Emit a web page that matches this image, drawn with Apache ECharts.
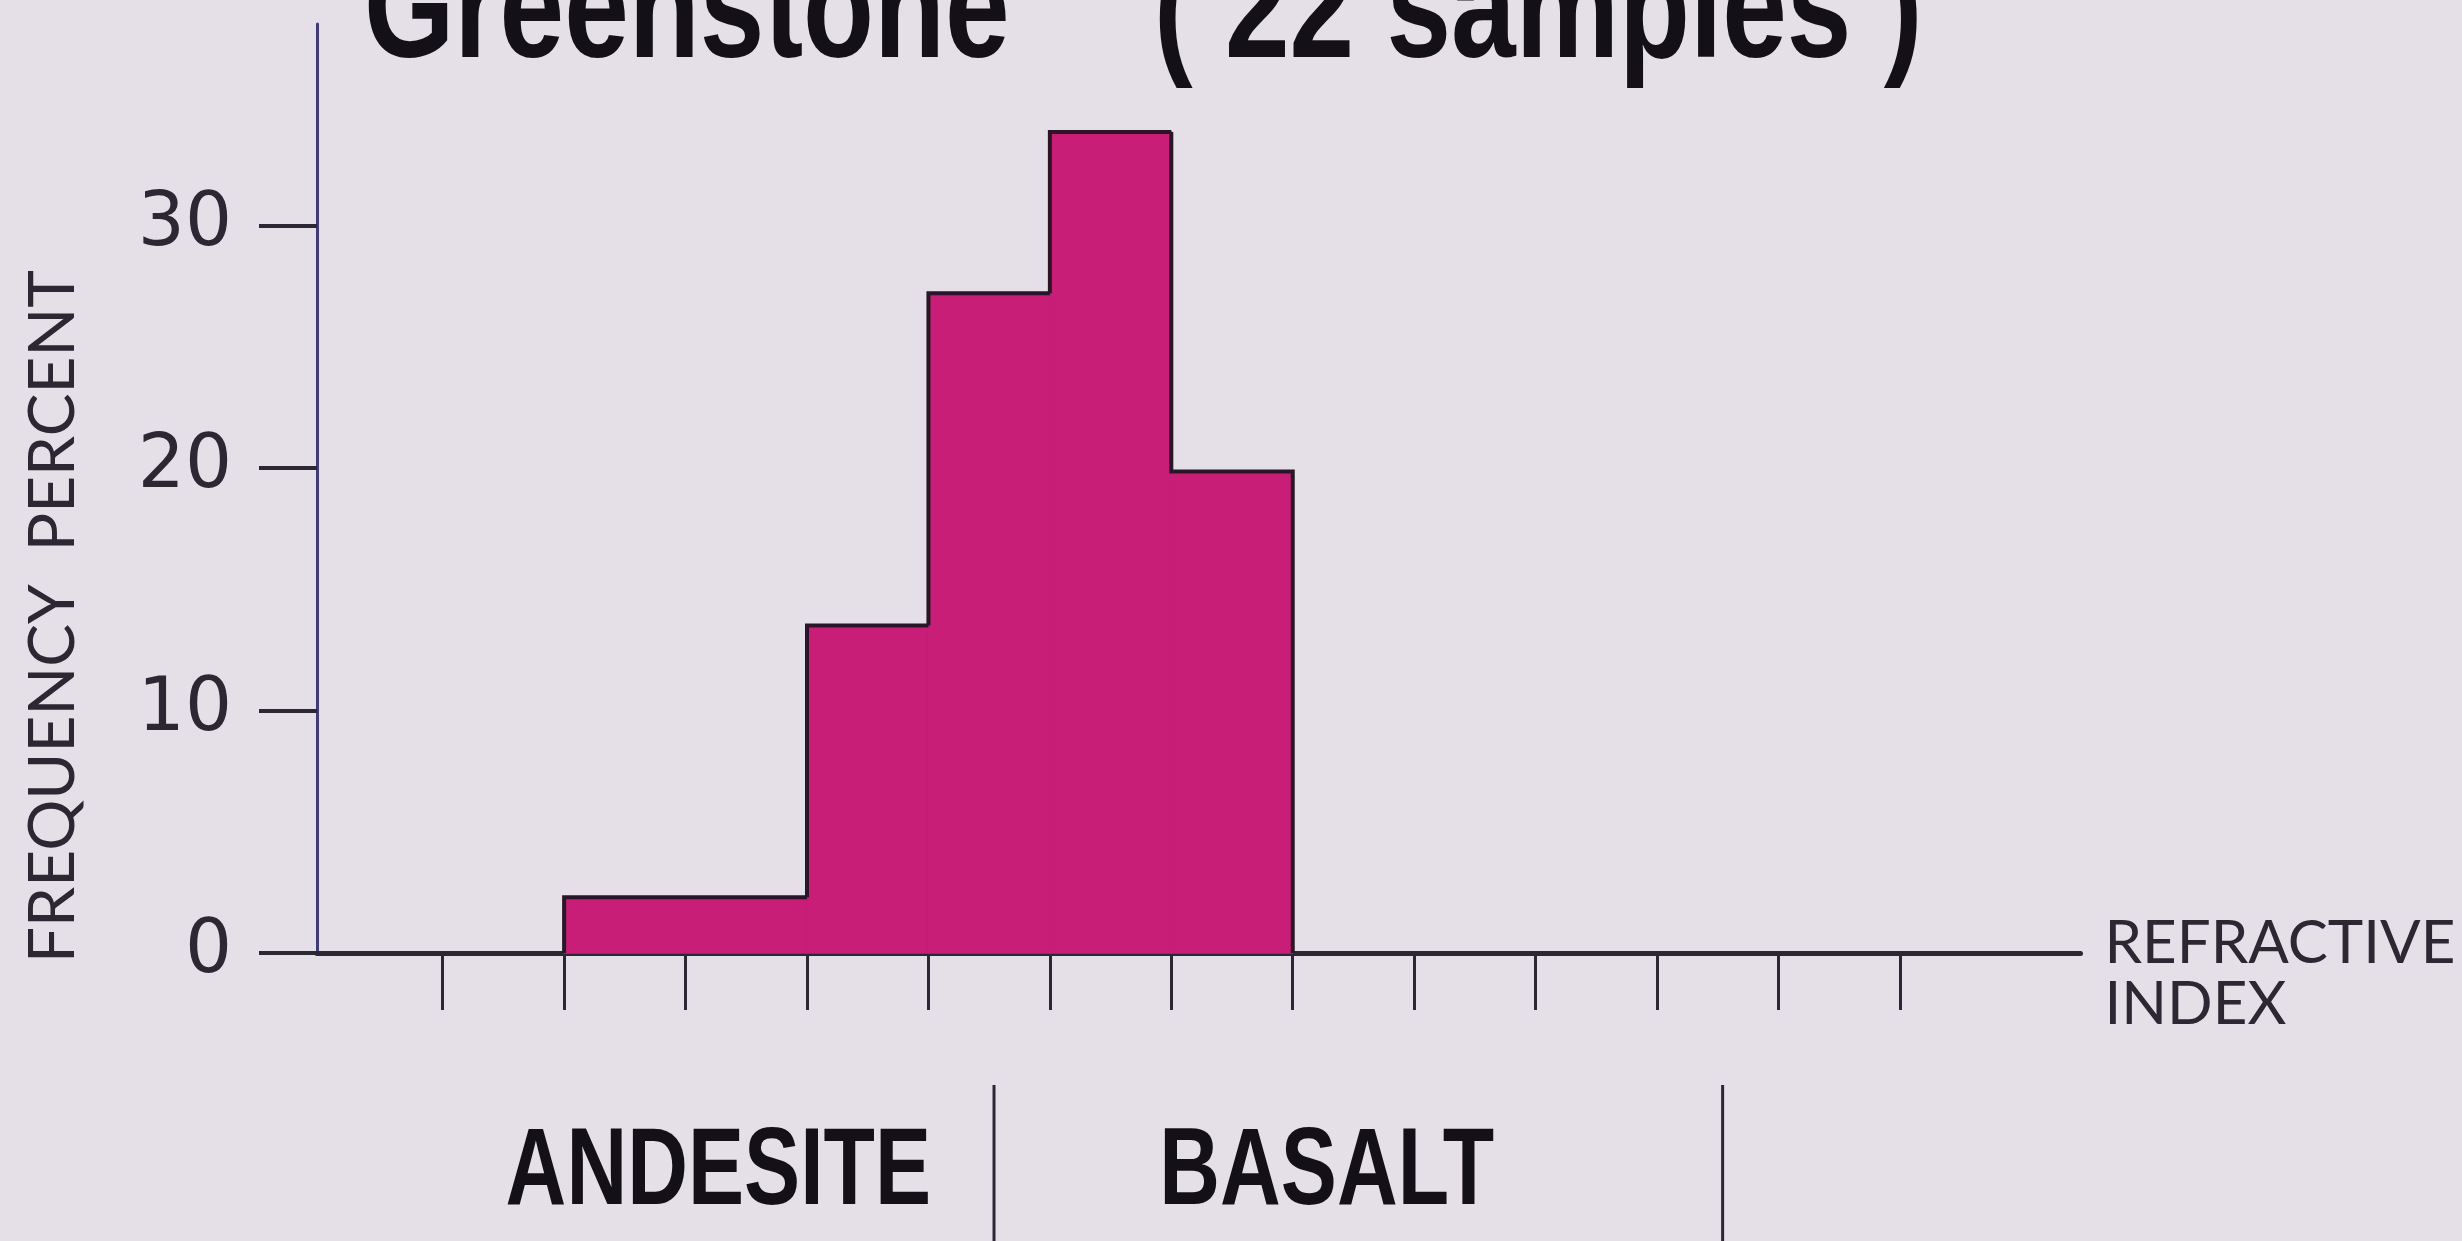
<!DOCTYPE html>
<html>
<head>
<meta charset="utf-8">
<title>Greenstone (22 samples)</title>
<script src="https://cdn.jsdelivr.net/npm/echarts@6/dist/echarts.min.js"></script>
<style>
  html, body { margin: 0; padding: 0; background: #e5dfe8; }
  #chart { width: 2462px; height: 1241px; }
</style>
</head>
<body>
<div id="chart"></div>
<script>
// histogram bins (refractive index tick units) and frequency percent
const binStart = [2, 4, 5, 6, 7];
const binEnd = [4, 5, 6, 7, 8];
const frequency = [2.3, 13.5, 27.2, 33.85, 19.85];

const yTicks = [0, 10, 20, 30];
const xTicks = [1, 2, 3, 4, 5, 6, 7, 8, 9, 10, 11, 12, 13];

// rock types shown under the axis
const rockNames = ['ANDESITE', 'BASALT'];
const rockLabelAt = [3.27, 8.28];
const rockUpperBound = [5.54, 11.54];

const ink = '#2b2733';
const magenta = '#c81e78';

const bins = binStart.map(function (s, i) {
    return [s, binEnd[i], frequency[i]];
});
const rocks = rockNames.map(function (n, i) {
    return [rockLabelAt[i], rockUpperBound[i], n];
});

const myChart = echarts.init(document.getElementById('chart'));

const titleFont = 'bold 148px "Liberation Sans", Arial, sans-serif';

const option = {
    backgroundColor: '#e5dfe8',
    animation: false,
    graphic: [
        {
            type: 'text', x: 364, y: 16, scaleX: 0.785,
            style: {
                text: 'Greenstone', fill: '#141018', font: titleFont,
                align: 'left', verticalAlign: 'middle'
            }
        },
        {
            type: 'text', x: 1154, y: 16, scaleX: 0.785,
            style: {
                text: '( 22 samples )', fill: '#141018', font: titleFont,
                align: 'left', verticalAlign: 'middle'
            }
        }
    ],
    grid: {
        left: 317, right: 381.5, top: 24, bottom: 288,
        outerBoundsMode: 'none'
    },
    xAxis: {
        type: 'value',
        min: -0.035,
        max: 14.487,
        name: '{a|REFRACTIVE}\n{b|INDEX}',
        nameLocation: 'end',
        nameGap: 24,
        nameTextStyle: {
            fontFamily: 'Lato', fontSize: 60, color: ink, align: 'left',
            rich: {
                a: { fontFamily: 'Lato', fontSize: 60, color: ink, lineHeight: 104 },
                b: { fontFamily: 'Lato', fontSize: 60, color: ink, lineHeight: 18 }
            }
        },
        axisLine: { lineStyle: { color: ink, width: 5 } },
        axisTick: {
            customValues: xTicks, length: 57,
            lineStyle: { color: ink, width: 3 }
        },
        axisLabel: { show: false },
        splitLine: { show: false }
    },
    yAxis: {
        type: 'value',
        min: 0,
        max: 38.3,
        name: 'FREQUENCY  PERCENT',
        nameLocation: 'middle',
        nameGap: 232,
        nameTextStyle: {
            fontFamily: 'Lato', fontSize: 64, color: ink,
            padding: [0, 256, 0, 0]
        },
        axisLine: { show: true, onZero: false, lineStyle: { color: '#3e3d78', width: 3 } },
        axisTick: {
            customValues: yTicks, length: 58,
            lineStyle: { color: ink, width: 4 }
        },
        axisLabel: {
            customValues: yTicks, margin: 85,
            fontFamily: 'DejaVu Sans', fontSize: 74, color: ink
        },
        splitLine: { show: false }
    },
    series: [
        {
            name: 'Frequency',
            type: 'custom',
            data: bins,
            z: 3,
            renderItem: function (params, api) {
                const i = params.dataIndex;
                const x0 = api.value(0), x1 = api.value(1), h = api.value(2);
                const prevH = i > 0 ? bins[i - 1][2] : 0;
                const tl = api.coord([x0, h]);
                const br = api.coord([x1, 0]);
                const pts = [api.coord([x0, prevH]), tl, api.coord([x1, h])];
                if (i === bins.length - 1) pts.push(br);
                return {
                    type: 'group',
                    children: [
                        {
                            type: 'rect',
                            shape: { x: tl[0], y: tl[1], width: br[0] - tl[0], height: br[1] - tl[1] },
                            style: { fill: magenta, stroke: magenta, lineWidth: 1.5 }
                        },
                        {
                            type: 'polyline',
                            z2: 10,
                            shape: { points: pts },
                            style: { fill: null, stroke: '#2a1628', lineWidth: 4 }
                        }
                    ]
                };
            }
        },
        {
            name: 'Rock type',
            type: 'custom',
            data: rocks,
            clip: false,
            silent: true,
            renderItem: function (params, api) {
                const label = api.coord([api.value(0), 0]);
                const bound = api.coord([api.value(1), 0]);
                return {
                    type: 'group',
                    children: [
                        {
                            type: 'text', x: label[0], y: label[1] + 221, scaleX: 0.765,
                            style: {
                                text: rocks[params.dataIndex][2], fill: '#141018',
                                font: 'bold 110px "Liberation Sans", Arial, sans-serif',
                                align: 'center', verticalAlign: 'middle'
                            }
                        },
                        {
                            type: 'line',
                            shape: { x1: bound[0], y1: bound[1] + 132, x2: bound[0], y2: bound[1] + 300 },
                            style: { stroke: ink, lineWidth: 3 }
                        }
                    ]
                };
            }
        }
    ]
};

myChart.setOption(option);
</script>
</body>
</html>
